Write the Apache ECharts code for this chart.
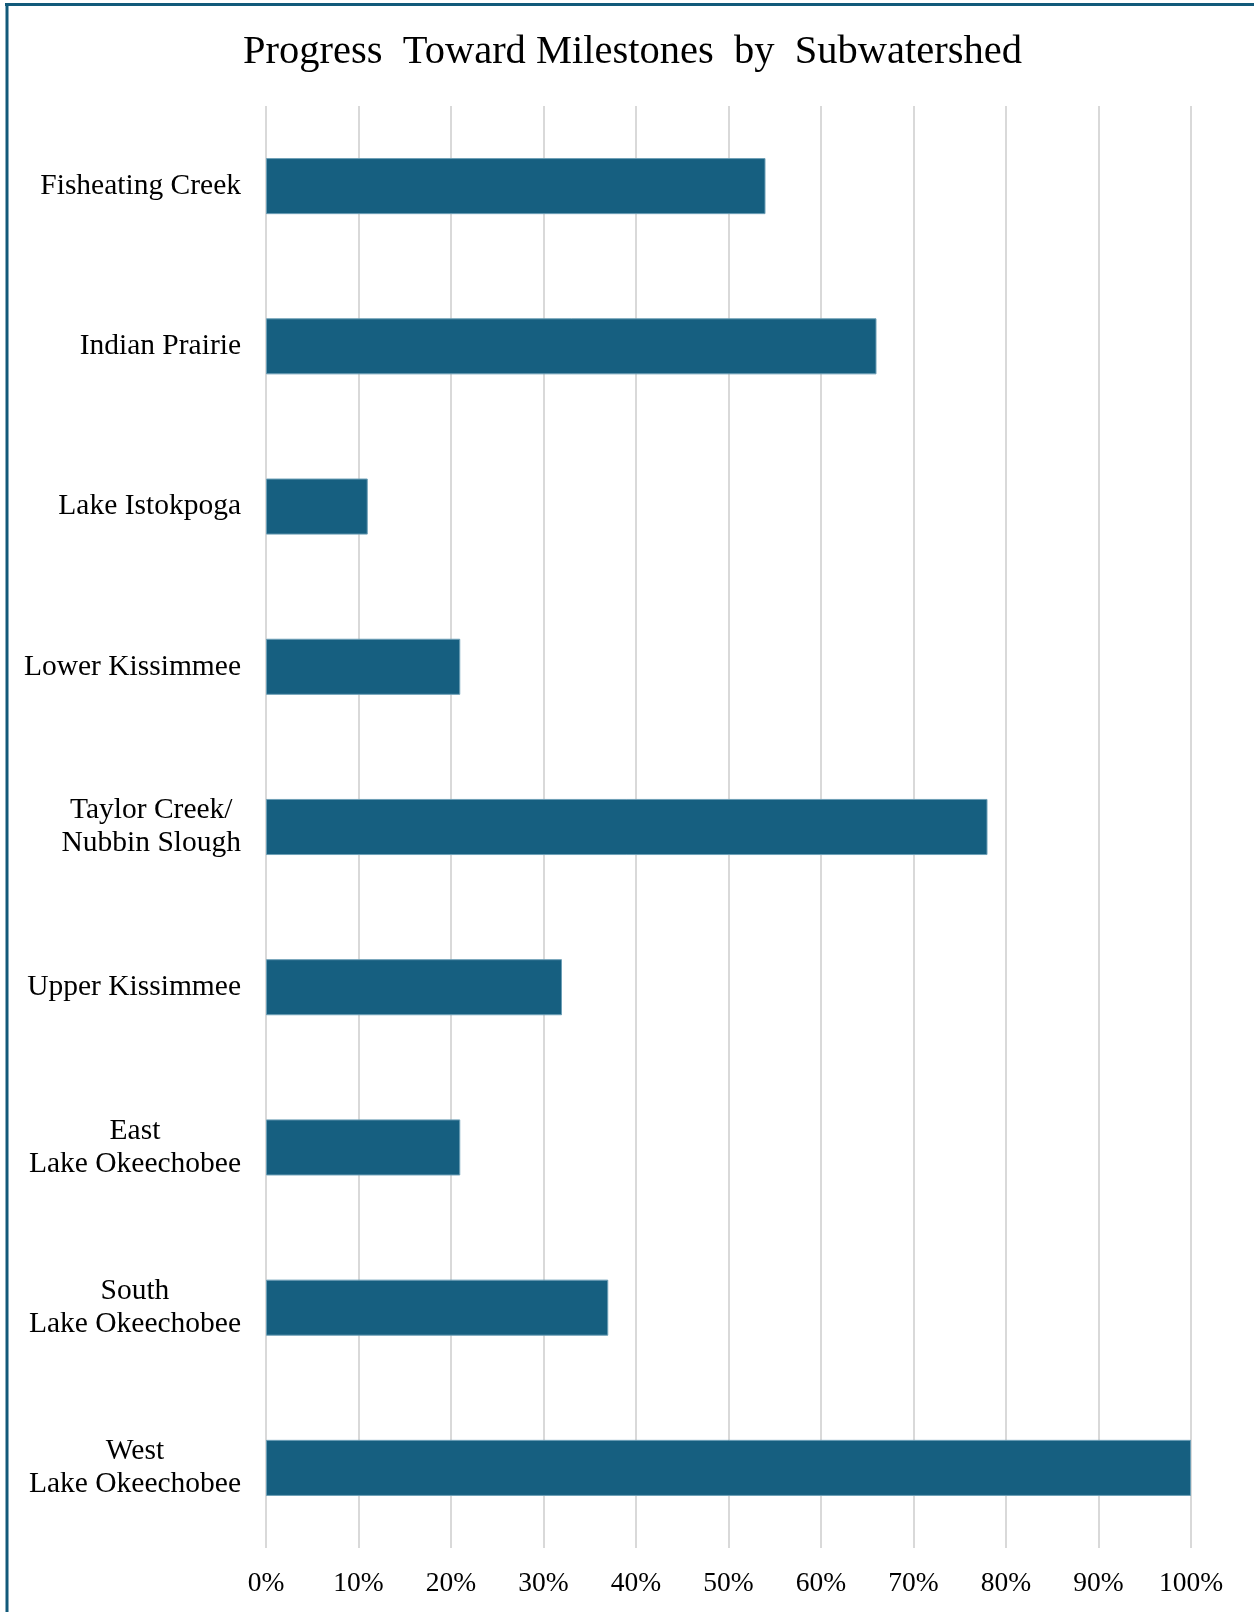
<!DOCTYPE html>
<html>
<head>
<meta charset="utf-8">
<script src="https://cdn.jsdelivr.net/npm/echarts@6/dist/echarts.min.js"></script>
<style>
html,body{margin:0;padding:0;background:#fff;}
#chart{width:1254px;height:1612px;}
</style>
</head>
<body>
<div id="chart"></div>
<script>
const categories = [
  "Fisheating Creek",
  "Indian Prairie",
  "Lake Istokpoga",
  "Lower Kissimmee",
  "Taylor Creek/\nNubbin Slough",
  "Upper Kissimmee",
  "East\nLake Okeechobee",
  "South\nLake Okeechobee",
  "West\nLake Okeechobee"
];
const progressValues = [54, 66, 11, 21, 78, 32, 21, 37, 100];
const tickValues = [0, 10, 20, 30, 40, 50, 60, 70, 80, 90, 100];

const chart = echarts.init(document.getElementById('chart'));
const serif = '"Liberation Serif", "DejaVu Serif", serif';
chart.setOption({
  backgroundColor: '#ffffff',
  animation: false,
  title: {
    text: 'Progress  Toward Milestones  by  Subwatershed',
    left: 238,
    top: 27,
    textStyle: { fontFamily: serif, fontSize: 40.5, fontWeight: 'normal', color: '#000000' }
  },
  graphic: [
    { type: 'line', shape: { x1: 5, y1: 4.5, x2: 1254, y2: 4.5 }, style: { stroke: '#125a7a', lineWidth: 3 } },
    { type: 'line', shape: { x1: 7, y1: 3, x2: 7, y2: 1612 }, style: { stroke: '#125a7a', lineWidth: 3 } }
  ],
  grid: { left: 266, right: 63, top: 106, bottom: 64, containLabel: false },
  xAxis: {
    type: 'value',
    min: 0,
    max: 100,
    interval: 10,
    axisLine: { show: false },
    axisTick: { show: false },
    splitLine: { show: true, lineStyle: { color: '#d9d9d9', width: 2 } },
    axisLabel: {
      margin: 22,
      fontFamily: serif,
      fontSize: 27.5,
      color: '#000000',
      formatter: function (v) { return tickValues.indexOf(v) >= 0 ? v + '%' : ''; }
    }
  },
  yAxis: {
    type: 'category',
    inverse: true,
    data: categories,
    axisLine: { show: false },
    axisTick: { show: false },
    axisLabel: {
      margin: 25,
      align: 'right',
      color: '#000000',
      fontFamily: serif,
      fontSize: 29.5,
      lineHeight: 33,
      formatter: function (v) {
        return v.split('\n').map(function (l) { return '{c|' + l + '}'; }).join('\n');
      },
      rich: {
        c: { align: 'center', fontFamily: serif, fontSize: 29.5, lineHeight: 33, color: '#000000' }
      }
    }
  },
  series: [{
    type: 'bar',
    data: progressValues,
    barWidth: '35%',
    itemStyle: { color: '#165f80', borderColor: '#6d9fb6', borderWidth: 1 }
  }]
});
</script>
</body>
</html>
